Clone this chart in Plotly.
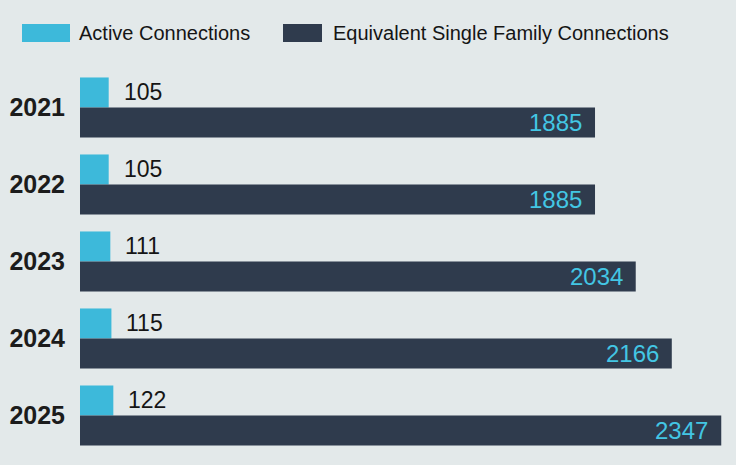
import plotly.graph_objects as go

years = ["2021", "2022", "2023", "2024", "2025"]
active = [105, 105, 111, 115, 122]
esf = [1885, 1885, 2034, 2166, 2347]
series_names = ["Active Connections", "Equivalent Single Family Connections"]

W, H = 736, 465
ML, MR, MT, MB = 80, 0, 69, 11
PW, PH = W - ML - MR, H - MT - MB

def px_x(p):
    return (p - ML) / PW

def px_y(p):
    return (H - MB - p) / PH

c_active = "#3db9da"
c_esf = "#2f3b4d"
c_label_in = "#43c6e4"
bg = "#e3e9ea"
font = "Liberation Sans, Arial, sans-serif"

fig = go.Figure()
fig.add_trace(go.Bar(y=years, x=active, orientation="h", name=series_names[0],
                     marker=dict(color=c_active, line=dict(width=0))))
fig.add_trace(go.Bar(y=years, x=esf, orientation="h", name=series_names[1],
                     marker=dict(color=c_esf, line=dict(width=0))))

annotations = []
for i, (a, e) in enumerate(zip(active, esf)):
    annotations.append(dict(x=a, y=i, xref="x", yref="y", text=str(a), showarrow=False,
                            xanchor="left", yanchor="middle", xshift=13, yshift=16,
                            font=dict(family=font, size=23, color="#151515")))
    annotations.append(dict(x=e, y=i, xref="x", yref="y", text=str(e), showarrow=False,
                            xanchor="right", yanchor="middle", xshift=-11, yshift=-15,
                            font=dict(family=font, size=24, color=c_label_in)))

# manual legend
shapes = [
    dict(type="rect", xref="paper", yref="paper", x0=px_x(22), x1=px_x(70), y0=px_y(42), y1=px_y(24),
         fillcolor=c_active, line=dict(width=0)),
    dict(type="rect", xref="paper", yref="paper", x0=px_x(283), x1=px_x(322), y0=px_y(42), y1=px_y(24),
         fillcolor=c_esf, line=dict(width=0)),
]
annotations.append(dict(x=px_x(77), y=px_y(33), xref="paper", yref="paper", text=series_names[0],
                        showarrow=False, xanchor="left", yanchor="middle",
                        font=dict(family=font, size=20, color="#151515")))
annotations.append(dict(x=px_x(331), y=px_y(33), xref="paper", yref="paper", text=series_names[1],
                        showarrow=False, xanchor="left", yanchor="middle",
                        font=dict(family=font, size=20, color="#151515")))

fig.update_layout(
    width=W, height=H,
    margin=dict(l=ML, r=MR, t=MT, b=MB),
    paper_bgcolor=bg, plot_bgcolor=bg,
    barmode="group", bargap=0.22, bargroupgap=0,
    showlegend=False,
    xaxis=dict(range=[0, 2401], autorange=False, visible=False, showgrid=False, zeroline=False),
    yaxis=dict(type="category", categoryorder="array", categoryarray=years,
               range=[len(years) - 0.5, -0.5], autorange=False,
               showgrid=False, zeroline=False,
               showline=False, ticks="outside", ticklen=9, tickcolor="rgba(0,0,0,0)",
               tickfont=dict(family=font, size=25, color="#1c1c1c", weight="bold")),
    shapes=shapes,
    annotations=annotations,
)

fig.write_html("out.html", config={"displayModeBar": False},
               post_script="document.body.style.margin='0';document.body.style.background='%s';" % bg)
